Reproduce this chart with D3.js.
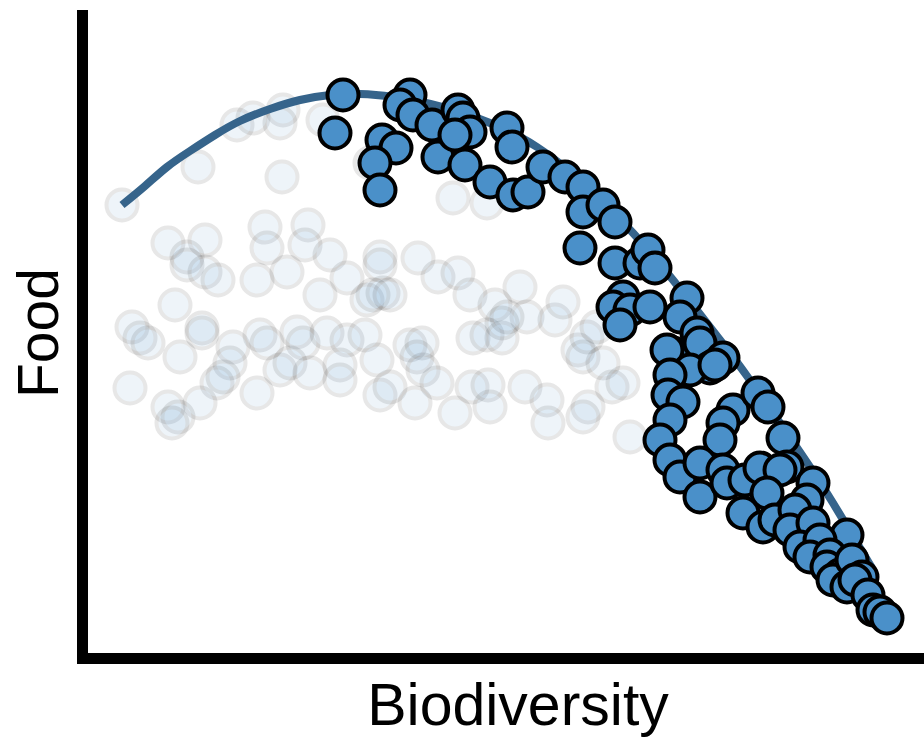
<!DOCTYPE html>
<html>
<head>
<meta charset="utf-8">
<script src="https://cdn.jsdelivr.net/npm/d3@7"></script>
<style>
  body { margin: 0; background: #fff; }
  text { font-family: "Liberation Sans", Arial, sans-serif; fill: #000; }
</style>
</head>
<body>
<div id="chart"></div>
<script>
var width = 924,
    height = 740;

// highlighted points [biodiversity, food]
var corePoints = [
  [25.5,56.2],[24.7,52.4],[32.2,56.2],[31.2,55.2],[29.4,51.7],[30.8,50.9],[28.7,49.4],[29.2,46.7],
  [32.5,54.2],[34.4,53.2],[35.0,50.0],[37.0,54.7],[37.5,53.9],[38.2,52.5],[36.7,52.2],[37.7,49.2],
  [40.2,47.5],[41.9,52.9],[42.4,51.0],[42.5,46.2],[44.0,46.5],[45.5,49.0],[47.7,48.0],[49.5,47.0],
  [49.5,44.5],[51.5,45.2],[52.7,43.5],[49.2,40.9],[52.7,39.4],[55.2,39.4],[56.0,40.7],[56.7,38.9],
  [53.5,36.0],[52.5,35.0],[54.2,34.7],[56.2,35.0],[53.2,33.2],[59.9,35.9],[59.2,34.0],[60.9,32.4],
  [58.5,30.4],[57.9,30.7],[61.2,31.4],[63.5,29.9],[62.2,28.9],[60.2,28.7],[62.7,29.2],[58.2,28.2],
  [58.0,26.2],[59.5,25.5],[58.2,23.7],[64.5,24.7],[63.5,23.4],[67.0,26.4],[68.0,25.0],[69.5,21.9],
  [57.2,21.7],[63.2,21.7],[69.9,19.0],[58.2,19.7],[59.2,18.0],[61.2,19.4],[63.5,18.7],[61.2,16.0],
  [63.9,17.4],[65.7,17.7],[67.2,18.9],[69.2,18.7],[67.9,16.4],[72.5,17.4],[65.5,14.4],[71.9,15.7],
  [67.5,13.0],[68.7,13.7],[70.7,14.7],[70.2,12.7],[72.5,13.4],[75.9,12.2],[71.2,11.0],[73.2,11.7],
  [72.2,10.0],[74.2,10.2],[73.9,9.0],[75.2,8.2],[74.5,7.7],[76.4,9.7],[75.9,7.0],[77.4,8.0],[76.7,7.7],
  [78.0,6.2],[78.5,4.7],[79.2,4.5],[79.9,3.9]
];

// faded background points [biodiversity, food]
var fadedPoints = [
  [3.4,45.2],[11.0,49.0],[14.9,53.2],[16.5,53.9],[19.5,54.7],[19.2,53.4],[23.5,53.7],[19.4,48.0],
  [17.7,43.0],[22.0,43.2],[8.0,41.4],[11.7,41.7],[9.9,40.0],[17.9,40.9],[21.7,41.2],[24.2,40.2],
  [29.2,40.0],[28.2,49.4],[36.5,45.9],[39.9,45.4],[9.9,39.2],[11.7,38.5],[13.0,37.7],[16.9,37.7],
  [19.9,38.5],[25.9,37.9],[23.2,36.2],[29.2,39.2],[27.9,35.7],[29.5,36.4],[8.7,35.2],[4.4,33.0],
  [5.2,31.9],[6.0,31.4],[11.4,32.9],[11.4,32.4],[9.2,30.0],[14.5,31.0],[14.2,29.4],[17.2,32.2],
  [17.9,31.4],[20.9,32.5],[21.5,31.4],[19.2,28.7],[20.2,29.4],[22.2,28.4],[23.9,32.4],[25.9,31.7],
  [25.2,29.2],[25.2,27.7],[27.7,32.2],[28.9,29.7],[29.2,26.2],[4.2,26.9],[12.9,27.4],[13.5,28.0],
  [11.2,25.4],[8.0,25.0],[9.0,24.0],[8.4,23.4],[16.9,26.4],[33.0,39.9],[35.0,38.0],[37.0,38.4],
  [38.2,36.2],[43.2,37.0],[40.7,35.2],[43.9,34.0],[46.7,33.7],[47.5,35.5],[28.5,36.2],[30.2,36.2],
  [38.5,31.9],[39.9,32.2],[41.4,31.9],[41.4,33.4],[41.9,34.0],[32.2,31.2],[33.4,31.4],[32.9,30.0],
  [33.5,28.7],[34.9,27.4],[30.2,27.0],[32.7,25.4],[36.7,24.4],[38.4,27.0],[40.0,27.2],[40.2,25.0],
  [43.7,27.0],[45.9,25.7],[46.0,23.4],[49.0,30.7],[49.5,30.0],[49.9,32.0],[50.0,25.0],[49.5,24.0],
  [51.5,29.4],[52.4,27.0],[53.5,27.4],[54.2,22.0],[50.9,33.0]
];

// trend curve
var trendBio  = [3.4, 5.7, 7.9, 10.2, 12.7, 15.2, 18.2, 21.2, 24.2, 27.2, 30.5, 35.5, 40.2, 44.9, 49.7, 54.5, 58.5, 63.2, 65.9, 69.2, 72.2, 74.5, 77.2, 78.4];
var trendFood = [45.2, 47.1, 49.0, 50.6, 52.2, 53.6, 54.8, 55.7, 56.2, 56.3, 56.0, 55.0, 53.4, 51.0, 47.2, 42.4, 37.7, 31.7, 28.1, 23.4, 19.0, 15.4, 10.9, 8.9];

var xLabel = "Biodiversity",
    yLabel = "Food";

var x = d3.scaleLinear().domain([0, 82]).range([88, 908]);
var y = d3.scaleLinear().domain([0, 65]).range([657, 7]);

var svg = d3.select("#chart").append("svg")
    .attr("width", width)
    .attr("height", height);

// faded points
svg.append("g")
  .selectAll("circle")
  .data(fadedPoints).enter()
  .append("circle")
  .attr("cx", function(d){ return x(d[0]); })
  .attr("cy", function(d){ return y(d[1]); })
  .attr("r", 15.5)
  .attr("fill", "#4a90c9")
  .attr("stroke", "#000")
  .attr("stroke-width", 4)
  .attr("opacity", 0.09);

// trend line
var line = d3.line()
  .x(function(d){ return x(d[0]); })
  .y(function(d){ return y(d[1]); })
  .curve(d3.curveNatural);

svg.append("path")
  .datum(trendBio.map(function(b, i){ return [b, trendFood[i]]; }))
  .attr("d", line)
  .attr("fill", "none")
  .attr("stroke", "#36648b")
  .attr("stroke-width", 8);

// highlighted points
svg.append("g")
  .selectAll("circle")
  .data(corePoints).enter()
  .append("circle")
  .attr("cx", function(d){ return x(d[0]); })
  .attr("cy", function(d){ return y(d[1]); })
  .attr("r", 15.5)
  .attr("fill", "#4a90c9")
  .attr("stroke", "#000")
  .attr("stroke-width", 4);

// axes (no ticks, just thick lines)
svg.append("line")
  .attr("x1", 82.5).attr("x2", 82.5)
  .attr("y1", 10).attr("y2", 658)
  .attr("stroke", "#000")
  .attr("stroke-width", 11);

svg.append("line")
  .attr("x1", 77).attr("x2", width)
  .attr("y1", 658.5).attr("y2", 658.5)
  .attr("stroke", "#000")
  .attr("stroke-width", 11);

svg.append("text")
  .attr("x", 518)
  .attr("y", 725)
  .attr("text-anchor", "middle")
  .style("font-size", "59px")
  .text(xLabel);

svg.append("text")
  .attr("transform", "translate(58,333) rotate(-90)")
  .attr("text-anchor", "middle")
  .style("font-size", "57px")
  .text(yLabel);
</script>
</body>
</html>
